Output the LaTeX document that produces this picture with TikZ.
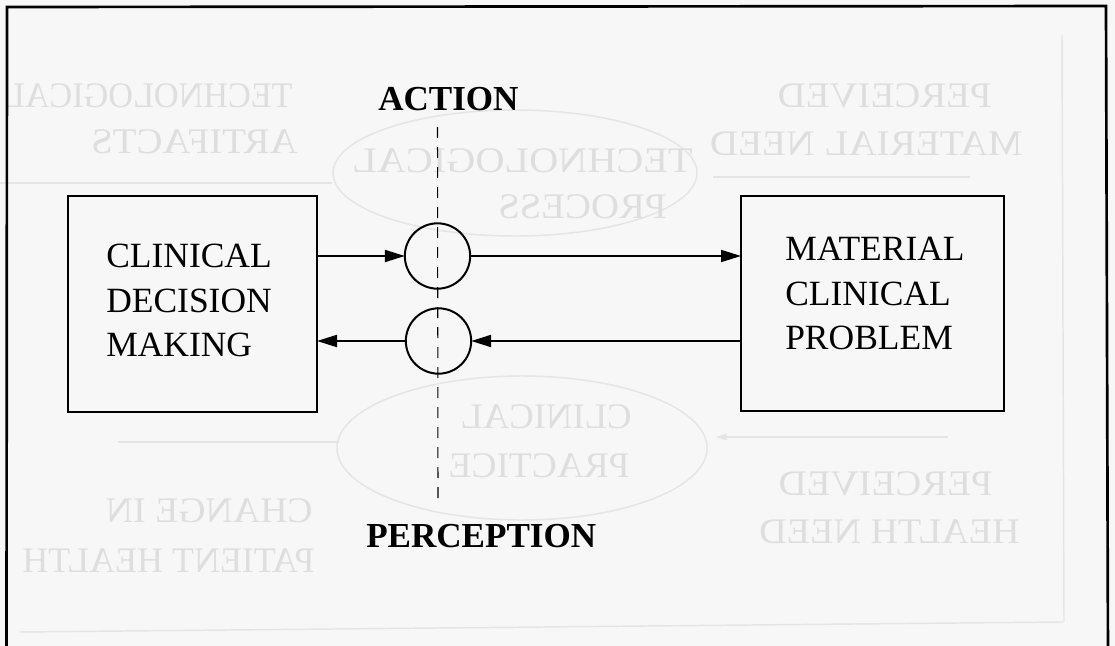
\documentclass[tikz,border=0pt]{standalone}
\usepackage{fontspec}
\setmainfont{Liberation Serif}
\usepackage{graphicx}
\usetikzlibrary{arrows.meta}
% mirrored text, optionally stretched horizontally
\newcommand{\mirror}[2][1]{\scalebox{-#1}[1]{#2}}
\begin{document}
\begin{tikzpicture}[x=0.75pt,y=-0.75pt,
  ink/.style={line width=1.5pt, draw=black},
  boxnode/.style={ink, rectangle, inner sep=0pt, outer sep=0pt},
  ring/.style={ink, circle, inner sep=0pt, outer sep=0pt, minimum size=49pt},
  flow/.style={line width=1.5pt, -{Triangle[length=15pt,width=9pt]}},
  boxtext/.style={font=\fontsize{26.6}{33.4}\selectfont, align=left, inner sep=0pt, anchor=north west},
  heading/.style={font=\fontsize{26.3}{30}\selectfont\bfseries, inner sep=0pt, anchor=base west},
  ghost/.style={text=black!13, font=\fontsize{27}{30}\selectfont, inner sep=0pt, anchor=base east},
  ghostline/.style={draw=black!10, line width=1.1pt},
]
\useasboundingbox (0,0) rectangle (1115,646);
\clip (0,0) rectangle (1115,646);
\fill[black!3] (0,0) rectangle (1115,646);

% show-through from the reverse side of the sheet
\draw[ghostline] (515,173) ellipse [x radius=182, y radius=63];
\draw[ghostline] (522,448) ellipse [x radius=185, y radius=72];
\draw[ghostline] (0,183) -- (332,183);
\draw[ghostline] (713,177) -- (970,177);
\draw[ghostline] (118,442) -- (339,442);
\draw[ghostline, {Triangle[length=8pt,width=5pt]}-] (716,437) -- (948,437);
\draw[ghostline] (1062,35) -- (1064,622);
\draw[ghostline] (20,632) -- (1063,622);
\node[ghost] (g1) at (293,107) {\mirror[0.95]{TECHNOLOGICAL}};
\node[ghost] (g2) at (298,153) {\mirror[1.08]{ARTIFACTS}};
\node[ghost] (g3) at (693,172) {\mirror[1.12]{TECHNOLOGICAL}};
\node[ghost] (g4) at (667,218) {\mirror[1.08]{PROCESS}};
\node[ghost] (g5) at (992,107) {\mirror[1.08]{PERCEIVED}};
\node[ghost] (g6) at (1023,155) {\mirror[1.09]{MATERIAL NEED}};
\node[ghost] (g7) at (632,428) {\mirror[1.02]{CLINICAL}};
\node[ghost] (g8) at (630,477) {\mirror[1.04]{PRACTICE}};
\node[ghost] (g9) at (993,495) {\mirror[1.08]{PERCEIVED}};
\node[ghost] (g10) at (1020,543) {\mirror[1.06]{HEALTH NEED}};
\node[ghost] (g11) at (313,522) {\mirror[1.05]{CHANGE IN}};
\node[ghost] (g12) at (315,572) {\mirror{PATIENT HEALTH}};

% outer frame
\draw[line width=2pt] (6.5,660) -- (7,7) -- (1106,6) -- (1108,660);

% boxes and texts
\node[boxnode, minimum width=186.75pt, minimum height=162pt] (lbox) at (192.5,304) {};
\node[boxnode, minimum width=197.25pt, minimum height=161.25pt] (rbox) at (872.5,303.5) {};
\node[boxtext] (ltext) at (106,244) {CLINICAL\\DECISION\\MAKING};
\node[boxtext] (rtext) at (785,237) {MATERIAL\\CLINICAL\\PROBLEM};

% action / perception divide
\node[heading] (act) at (378,110) {ACTION};
\node[heading] (perc) at (366,547) {PERCEPTION};
\coordinate (dtop) at (437.5,127);
\coordinate (dbot) at (438,499);
\draw[line width=0.8pt, dash pattern=on 8.25pt off 6.75pt] (dtop) -- (dbot);

\node[ring] (c1) at (437.5,256) {};
\node[ring] (c2) at (438.5,341) {};

% connectors
\draw[flow] (lbox.east |- c1) -- (c1.west);
\draw[flow] (c1.east) -- (rbox.west |- c1);
\draw[flow] (rbox.west |- c2) -- (c2.east);
\draw[flow] (c2.west) -- (lbox.east |- c2);
\end{tikzpicture}
\end{document}
